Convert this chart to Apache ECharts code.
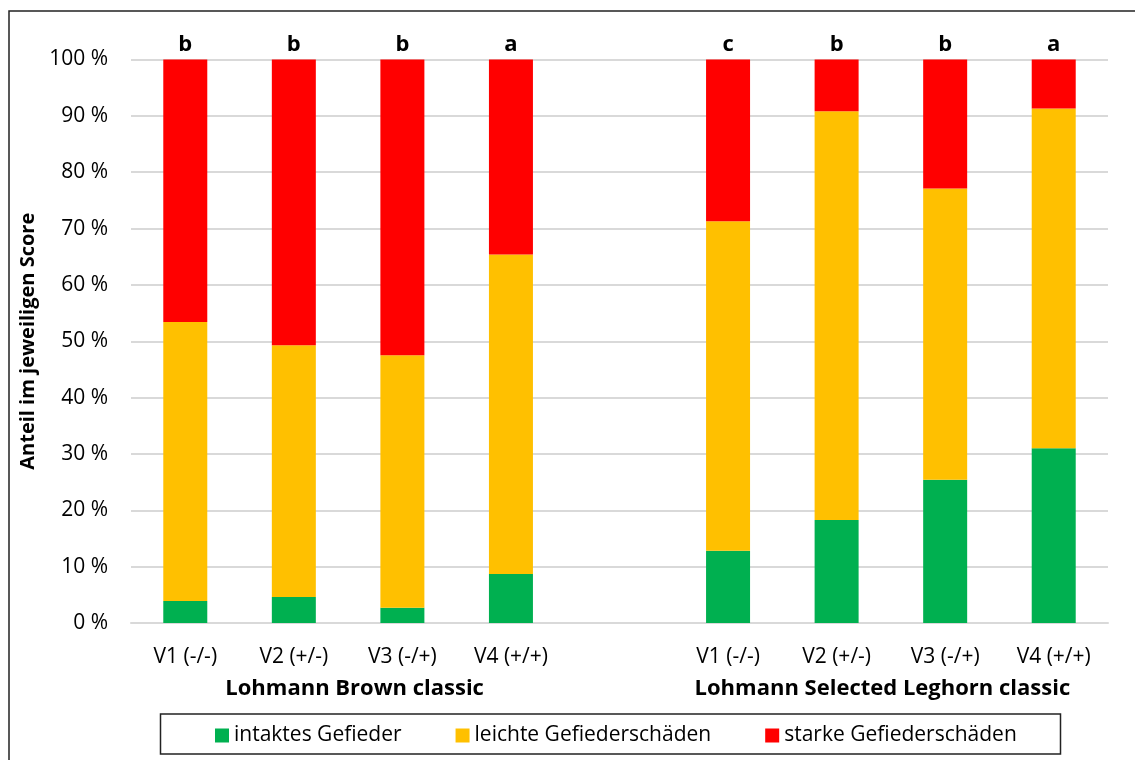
<!DOCTYPE html>
<html>
<head>
<meta charset="utf-8">
<script src="https://cdn.jsdelivr.net/npm/echarts@6/dist/echarts.min.js"></script>
<style>html,body{margin:0;padding:0;background:#fff;}#c{width:1135px;height:760px;}</style>
</head>
<body>
<div id="c"></div>
<script>
const categories = ['V1 (-/-)','V2 (+/-)','V3 (-/+)','V4 (+/+)','','V1 (-/-)','V2 (+/-)','V3 (-/+)','V4 (+/+)'];
const groupLabels = ['Lohmann Brown classic','Lohmann Selected Leghorn classic'];
const seriesNames = ['intaktes Gefieder','leichte Gefiederschäden','starke Gefiederschäden'];
const intakt = [3.9, 4.6, 2.7, 8.7, null, 12.8, 18.3, 25.4, 31.0];
const leicht = [49.5, 44.7, 44.8, 56.7, null, 58.5, 72.5, 51.7, 60.3];
const stark = [46.6, 50.7, 52.5, 34.6, null, 28.7, 9.2, 22.9, 8.7];
const letters = ['b','b','b','a','','c','b','b','a'];
const yTicks = [0,10,20,30,40,50,60,70,80,90,100];

const FONT = '"Open Sans", sans-serif';
const chart = echarts.init(document.getElementById('c'));
chart.setOption({
  animation:false,
  textStyle:{fontFamily:FONT},
  grid:{left:131,right:27,top:59.5,bottom:137,containLabel:false},
  xAxis:[{
    type:'category', data:categories,
    axisLine:{lineStyle:{color:'#d9d9d9',width:2}},
    axisTick:{show:false},
    axisLabel:{color:'#000',fontSize:21,margin:24,fontFamily:FONT,interval:0}
  },{
    type:'value', position:'bottom', min:0, max:9, interval:1,
    axisLine:{show:false}, axisTick:{show:false}, splitLine:{show:false},
    axisLabel:{show:true,color:'#000',fontSize:22,fontWeight:'bold',margin:55,fontFamily:FONT,
      showMinLabel:true, showMaxLabel:true,
      rich:{
        l:{fontSize:22,fontWeight:'bold',color:'#000',fontFamily:FONT,padding:[0,0,0,13]},
        r:{fontSize:22,fontWeight:'bold',color:'#000',fontFamily:FONT,padding:[0,17,0,0]}
      },
      formatter:function(v){ if(v===2) return '{l|'+groupLabels[0]+'}'; if(v===7) return '{r|'+groupLabels[1]+'}'; return ''; }}
  }],
  yAxis:{
    type:'value', min:yTicks[0], max:yTicks[yTicks.length-1], interval:10,
    name:'Anteil im jeweiligen Score', nameLocation:'middle', nameGap:81,
    nameTextStyle:{fontSize:20,fontWeight:'bold',color:'#000',fontFamily:FONT},
    axisLine:{show:false}, axisTick:{show:false},
    axisLabel:{color:'#000',fontSize:21,margin:23,formatter:'{value} %',fontFamily:FONT},
    splitLine:{lineStyle:{color:'#d9d9d9',width:2}}
  },
  legend:{
    data:seriesNames, left:210, top:720, itemWidth:14, itemHeight:14, itemGap:54,
    icon:'rect',
    textStyle:{fontSize:21,color:'#000',fontFamily:FONT}
  },
  graphic:[
    {type:'rect',shape:{x:9,y:11,width:1140,height:760},style:{fill:'none',stroke:'#222',lineWidth:1.5},silent:true,z:-1},
    {type:'rect',shape:{x:160.5,y:714,width:900,height:40},style:{fill:'none',stroke:'#222',lineWidth:1.5},silent:true}
  ],
  series:[
    {name:seriesNames[0],type:'bar',stack:'s',data:intakt,barWidth:44,itemStyle:{color:'#00b050'}},
    {name:seriesNames[1],type:'bar',stack:'s',data:leicht,barWidth:44,itemStyle:{color:'#ffc000'}},
    {name:seriesNames[2],type:'bar',stack:'s',data:stark,barWidth:44,itemStyle:{color:'#ff0000'},
      label:{show:true,position:'top',distance:4,fontSize:22,fontWeight:'bold',color:'#000',fontFamily:FONT,
        formatter:function(p){return letters[p.dataIndex];}}}
  ]
});
</script>
</body>
</html>
